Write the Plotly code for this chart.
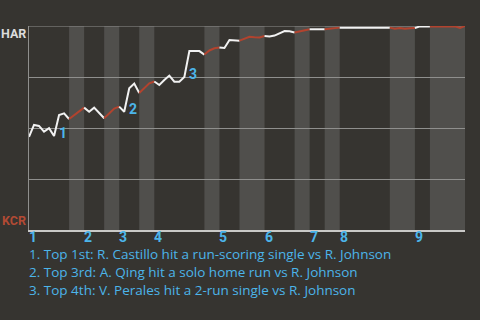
import plotly.graph_objects as go

# ---- data ----
innings = ["1", "2", "3", "4", "5", "6", "7", "8", "9"]
# cumulative play index at which each half-inning ends (top 1st, bot 1st, top 2nd, ...)
half_bounds = [0, 8, 11, 15, 18, 22, 25, 35, 38, 42, 47, 53, 56, 59, 62, 72, 77, 80, 87]
# HAR win probability (%) after each play
win_prob = [
    45.7, 51.5, 51.0, 48.2, 49.9, 46.1, 56.4, 57.2, 54.4,          # top 1
    56.2, 58.2, 60.0,                                              # bot 1
    58.0, 60.0, 57.4, 54.8,                                        # top 2
    57.0, 59.5, 60.5,                                              # bot 2
    58.0, 69.5, 71.8, 67.2,                                        # top 3
    69.6, 71.9, 72.8,                                              # bot 3
    71.1, 73.5, 75.7, 72.7, 72.7, 75.0, 87.7, 87.7, 87.7, 86.0,    # top 4
    88.0, 89.1, 89.5,                                              # bot 4
    89.2, 93.1, 92.8, 92.8,                                        # top 5
    93.9, 94.7, 94.5, 94.4, 95.1,                                  # bot 5
    94.9, 95.3, 96.6, 97.5, 97.4, 96.8,                            # top 6
    97.3, 98.0, 98.4,                                              # bot 6
    98.4, 98.4, 98.4,                                              # top 7
    98.7, 98.8, 99.2,                                              # bot 7
    99.2, 99.2, 99.2, 99.2, 99.2, 99.2, 99.2, 99.2, 99.2, 99.2,    # top 8
    98.7, 99.0, 98.7, 98.9, 99.0,                                  # bot 8
    99.8, 99.8, 99.8,                                              # top 9
    99.8, 99.8, 99.8, 99.8, 99.8, 99.0, 100.0,                     # bot 9
]
score_events = [6, 20, 32]
score_labels = ["1", "2", "3"]
captions = [
    "1. Top 1st: R. Castillo hit a run-scoring single vs R. Johnson",
    "2. Top 3rd: A. Qing hit a solo home run vs R. Johnson",
    "3. Top 4th: V. Perales hit a 2-run single vs R. Johnson",
]
teams = ["HAR", "KCR"]
grid_vals = [0, 25, 50, 75, 100]

# ---- style ----
BG = "#363430"
BAND = "#504f4c"
GRID = "#8f8f8d"
AXIS = "#c9c9c7"
WHITE = "#f2f2f2"
RED = "#b2432e"
BLUE = "#4cb5ea"
HAR_C = "#dcdcdc"
KCR_C = "#b24a34"
FONT = "Roboto"
CAP_FONT = "Open Sans"

fig = go.Figure()
shapes = []
for i in range(len(half_bounds) - 1):
    a, b = half_bounds[i], half_bounds[i + 1]
    color = WHITE if i % 2 == 0 else RED
    fig.add_trace(go.Scatter(
        x=list(range(a, b + 1)), y=win_prob[a:b + 1], mode="lines",
        line=dict(color=color, width=2), hoverinfo="skip", showlegend=False,
    ))
    if i % 2 == 1:
        shapes.append(dict(type="rect", xref="x", yref="paper", x0=a, x1=b, y0=0, y1=1,
                           fillcolor=BAND, line=dict(width=0), layer="below"))
# top gridline (edge of the range)
shapes.append(dict(type="line", xref="paper", yref="y", x0=0, x1=1, y0=grid_vals[-1], y1=grid_vals[-1],
                   line=dict(color=GRID, width=1), layer="below"))

annotations = []
for k, lab in enumerate(innings):
    annotations.append(dict(x=half_bounds[2 * k], y=0, xref="x", yref="paper",
                            text="<b>%s</b>" % lab, showarrow=False, xanchor="left", yanchor="middle",
                            xshift=-1, yshift=-7, borderpad=0,
                            font=dict(family=FONT, size=14, color=BLUE)))
for ev, lab in zip(score_events, score_labels):
    annotations.append(dict(x=ev, y=win_prob[ev - 1], xref="x", yref="y",
                            text="<b>%s</b>" % lab, showarrow=False, xanchor="left", yanchor="middle",
                            xshift=-2, yshift=3, font=dict(family=FONT, size=14, color=BLUE)))
for j, cap in enumerate(captions):
    annotations.append(dict(x=0, y=0, xref="paper", yref="paper", text=cap, showarrow=False,
                            xanchor="left", yanchor="middle", xshift=-1, yshift=-24 - 18 * j,
                            borderpad=0, font=dict(family=CAP_FONT, size=13.5, color=BLUE)))
annotations.append(dict(x=0, y=1, xref="paper", yref="paper", text="<b>%s</b>" % teams[0],
                        showarrow=False, xanchor="right", yanchor="top", xshift=-1, yshift=2,
                        font=dict(family=FONT, size=12.5, color=HAR_C)))
annotations.append(dict(x=0, y=0, xref="paper", yref="paper", text="<b>%s</b>" % teams[1],
                        showarrow=False, xanchor="right", yanchor="bottom", xshift=-1, yshift=0,
                        font=dict(family=FONT, size=12.5, color=KCR_C)))

fig.update_layout(
    width=480, height=320, margin=dict(l=29, r=15, t=26, b=90),
    paper_bgcolor=BG, plot_bgcolor=BG, shapes=shapes, annotations=annotations,
    xaxis=dict(range=[0, half_bounds[-1]], showgrid=False, zeroline=False, showline=True,
               linecolor=AXIS, linewidth=2, showticklabels=False, ticks="", fixedrange=True),
    yaxis=dict(range=[0, 100], tickvals=grid_vals, showgrid=True, gridcolor=GRID, gridwidth=1,
               zeroline=False, showline=True, linecolor=GRID, linewidth=1,
               showticklabels=False, ticks="", fixedrange=True),
    font=dict(family=FONT),
)
fig.write_html("out.html", config={"displayModeBar": False})
